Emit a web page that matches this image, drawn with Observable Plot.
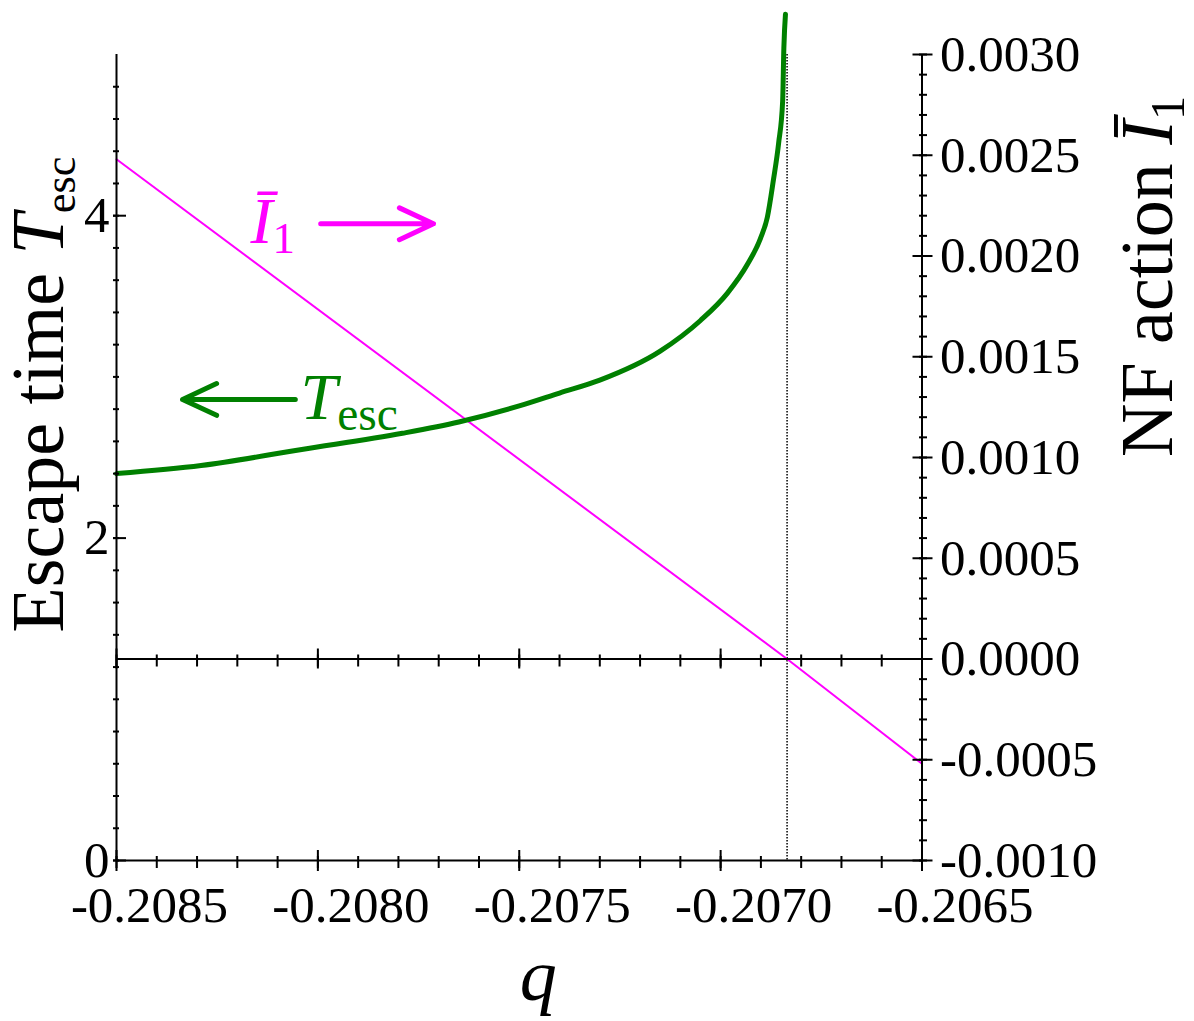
<!DOCTYPE html>
<html><head><meta charset="utf-8">
<script src="https://cdn.jsdelivr.net/npm/d3@7"></script>
<script src="https://cdn.jsdelivr.net/npm/@observablehq/plot@0.6"></script>
<style>
html,body{margin:0;padding:0;background:#fff;}
#chart svg{display:block;}
</style></head><body><div id="chart"></div>
<script>
// ---- data ----
const qEsc = [-0.2085, -0.20829, -0.20804, -0.20779, -0.20765, -0.20750, -0.20740, -0.20730, -0.20715, -0.20705, -0.206983, -0.206933, -0.206901, -0.206884, -0.206869, -0.206856, -0.206846, -0.206843, -0.206839];
const tEsc = [2.40, 2.45, 2.55, 2.65, 2.72, 2.82, 2.90, 2.98, 3.16, 3.35, 3.52, 3.70, 3.86, 3.99, 4.22, 4.45, 4.71, 5.04, 5.25];
const qAction = [-0.2085, -0.206835, -0.2065];
const iAction = [0.00248, 0.0, -0.00052];
const qStar = -0.206835;

// axes / ticks
const qDomain = [-0.2085, -0.2065];
const tDomain = [0, 5];
const iDomain = [-0.001, 0.003];
const xMajor = [-0.2085, -0.2080, -0.2075, -0.2070, -0.2065];
const xMajorLabels = ["-0.2085", "-0.2080", "-0.2075", "-0.2070", "-0.2065"];
const xMinor = d3.range(0, 21).map(i => -0.2085 + i * 0.0001);
const leftMajor = [0, 2, 4];
const leftMajorLabels = ["0", "2", "4"];
const leftMinor = d3.range(0, 25).map(i => i * 0.2);
const rightMajor = [0.0030, 0.0025, 0.0020, 0.0015, 0.0010, 0.0005, 0.0000, -0.0005, -0.0010];
const rightMajorLabels = ["0.0030", "0.0025", "0.0020", "0.0015", "0.0010", "0.0005", "0.0000", "-0.0005", "-0.0010"];
const rightMinor = d3.range(0, 41).map(i => -0.001 + i * 0.0001);

// annotations (data coordinates: q, T)
const annoText = [
  {q: -0.208167, T: 3.83, text: "I_1", color: "#ff00ff"},
  {q: -0.208043, T: 2.74, text: "T_esc", color: "#008000"}
];
const annoArrows = [
  {q1: -0.207993, q2: -0.207713, T: 3.95, color: "#ff00ff"},
  {q1: -0.208056, q2: -0.208336, T: 2.86, color: "#008000"}
];
const titles = {left: "Escape time T_esc", right: "NF action I_1", bottom: "q"};

// ---- build ----
const W = 1194, H = 1021;
const mL = 116, mR = 272.5, mT = 54, mB = 161;
const toT = I => (I - iDomain[0]) / (iDomain[1] - iDomain[0]) * (tDomain[1] - tDomain[0]) + tDomain[0];
const escData = qEsc.map((q, i) => ({q, T: tEsc[i]}));
const actData = qAction.map((q, i) => ({q, T: toT(iAction[i])}));
const rightMajorT = rightMajor.map(toT);
const rightMinorT = rightMinor.map(toT);
const tZero = toT(0);
const dyMid = -(tZero - tDomain[0]) / (tDomain[1] - tDomain[0]) * (H - mT - mB);

const FONT = "'Liberation Serif', 'Times New Roman', Times, serif";
const tickFont = 51, titleFont = 74, annoFont = 66;
const noText = {fill: "none", label: null, strokeWidth: 2};

const svg = Plot.plot({
  width: W, height: H,
  marginLeft: mL, marginRight: mR, marginTop: mT, marginBottom: mB,
  style: {fontFamily: FONT, background: "white", color: "black", overflow: "visible"},
  x: {domain: qDomain},
  y: {domain: tDomain},
  marks: [
    Plot.ruleX([qStar], {stroke: "black", strokeWidth: 1.5, strokeDasharray: "1.5,1.5"}),
    Plot.line(actData, {x: "q", y: "T", stroke: "#ff00ff", strokeWidth: 2}),
    Plot.line(escData, {x: "q", y: "T", stroke: "#008000", strokeWidth: 5, curve: "monotone-x"}),
    // axis lines
    Plot.ruleX(qDomain, {stroke: "black", strokeWidth: 2}),
    Plot.ruleY([tDomain[0], tZero], {stroke: "black", strokeWidth: 2}),
    // tick marks
    Plot.axisY(leftMinor, {anchor: "left", tickSize: 6, dx: 3, ...noText}),
    Plot.axisY(leftMajor, {anchor: "left", tickSize: 13, dx: 10, ...noText}),
    Plot.axisY(rightMinorT, {anchor: "right", tickSize: 8, dx: -3.5, ...noText}),
    Plot.axisY(rightMajorT, {anchor: "right", tickSize: 20, dx: -10, ...noText}),
    Plot.axisX(xMinor, {anchor: "bottom", tickSize: 12, dy: -4, ...noText}),
    Plot.axisX(xMajor, {anchor: "bottom", tickSize: 21, dy: -10, ...noText}),
    Plot.axisX(xMinor, {anchor: "bottom", tickSize: 12, dy: -4 + dyMid, ...noText}),
    Plot.axisX(xMajor, {anchor: "bottom", tickSize: 20, dy: -10 + dyMid, ...noText}),
    // tick labels
    Plot.axisY(leftMajor, {anchor: "left", tickSize: 0, tickPadding: 7, label: null, fontSize: tickFont,
      tickFormat: d => leftMajorLabels[leftMajor.indexOf(d)]}),
    Plot.axisY(rightMajorT, {anchor: "right", tickSize: 0, tickPadding: 18, label: null, fontSize: tickFont,
      tickFormat: d => rightMajorLabels[rightMajorT.indexOf(d)]}),
    Plot.axisX(xMajor, {anchor: "bottom", tickSize: 0, tickPadding: 25, dx: 33, label: null, fontSize: tickFont,
      tickFormat: d => xMajorLabels[xMajor.indexOf(d)]}),
    // axis titles
    Plot.text([titles.left], {text: d => d, frameAnchor: "left", rotate: -90, dx: -77, dy: -63,
      fontSize: titleFont, textAnchor: "middle", lineAnchor: "middle", fill: "black"}),
    Plot.text([titles.right], {text: d => d, frameAnchor: "right", rotate: -90, dx: 226.5, dy: -181,
      fontSize: titleFont, textAnchor: "middle", lineAnchor: "middle", fill: "black"}),
    Plot.text([titles.bottom], {text: d => d, frameAnchor: "bottom", dx: 19, dy: 116,
      fontSize: titleFont, fontStyle: "italic", textAnchor: "middle", lineAnchor: "middle", fill: "black"}),
    // annotations
    Plot.arrow(annoArrows, {x1: "q1", x2: "q2", y1: "T", y2: "T", stroke: "color", strokeWidth: 5,
      headLength: 12, headAngle: 50, strokeLinecap: "round", strokeLinejoin: "round"}),
    Plot.text(annoText, {x: "q", y: "T", text: "text", fill: "color", fontSize: annoFont,
      textAnchor: "start", lineAnchor: "bottom"})
  ]
});

// rich text (italic symbols, subscripts)
const rich = {
  "Escape time T_esc": `Escape time <tspan font-style="italic">T</tspan><tspan font-size="0.6em" dy="12">esc</tspan>`,
  "NF action I_1": `NF action <tspan font-style="italic">\u012A</tspan><tspan font-size="0.65em" dy="12">1</tspan>`,
  "I_1": `<tspan font-style="italic">\u012A</tspan><tspan font-size="0.68em" dy="10">1</tspan>`,
  "T_esc": `<tspan font-style="italic">T</tspan><tspan font-size="0.72em" dy="11">esc</tspan>`
};
svg.querySelectorAll("text").forEach(t => {
  const k = t.textContent;
  if (rich[k]) t.innerHTML = rich[k];
});
document.getElementById("chart").appendChild(svg);
</script>
</body></html>
